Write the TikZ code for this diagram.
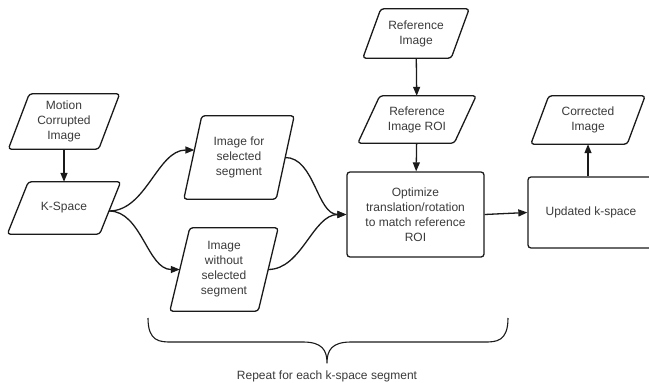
\documentclass[tikz,border=0pt]{standalone}
\usepackage{fontspec}
\setmainfont{Liberation Sans}
\usetikzlibrary{arrows.meta,calc}
\definecolor{txt}{HTML}{3A3A3A}
\definecolor{ln}{HTML}{1A1A1A}
\begin{document}
\begin{tikzpicture}[x=1pt,y=-1pt,
  lbl/.style={align=center,text=txt,font=\fontsize{12}{15}\selectfont,inner sep=0pt},
  outl/.style={draw=ln,line width=1.3pt,rounded corners=3pt,line join=round},
  conn/.style={draw=ln,line width=1.3pt,-{Triangle[length=9pt,width=7pt]}},
  curv/.style={conn,out=0,in=180,looseness=0.9}]
\useasboundingbox (0,0) rectangle (649,383);
% parallelogram helper: node name, skew
\newcommand{\paragr}[2]{%
  \draw[outl] ([xshift=-#2/2]#1.south west) -- ([xshift=#2/2]#1.north west) --
    ([xshift=#2/2]#1.north east) -- ([xshift=-#2/2]#1.south east) -- cycle;}
% nodes
\node[lbl,minimum width=90,minimum height=55] (mci) at (64,121.5) {Motion\\Corrupted\\Image};
\node[lbl,minimum width=92,minimum height=52] (ks) at (64,208) {K-Space};
\node[lbl,minimum width=92,minimum height=83] (isel) at (239,157.5) {Image for\\selected\\segment};
\node[lbl,minimum width=88,minimum height=83] (iwo) at (224,269.5) {Image\\without\\selected\\segment};
\node[lbl,minimum width=88,minimum height=49] (ref) at (416,33.5) {Reference\\Image};
\node[lbl,minimum width=96,minimum height=47] (roi) at (417,119.5) {Reference\\Image ROI};
\node[lbl,minimum width=96,minimum height=48] (cor) at (588,120) {Corrected\\Image};
\node[lbl,minimum width=137,minimum height=85,outl] (opt) at (415.5,214.5) {Optimize\\translation/rotation\\to match reference\\ROI};
\node[lbl,minimum width=126,minimum height=71,outl] (upd) at (591,212.5) {Updated k-space};
\paragr{mci}{21}
\paragr{ks}{21}
\paragr{isel}{18}
\paragr{iwo}{20}
\paragr{ref}{18}
\paragr{roi}{22}
\paragr{cor}{18}
% connectors
\draw[conn] (mci) -- (ks);
\draw[conn] (ref) -- (roi);
\draw[conn] (roi) -- (opt);
\draw[conn] (opt.east) -- (upd.west);
\draw[conn] (upd.north -| cor.south) -- (cor.south);
\coordinate (iselin) at ($(isel.west)+(1.6,-7.5)$);
\coordinate (ksout) at ($(ks.east)+(-1,3)$);
\draw[curv] (ksout) to (iselin);
\draw[curv] (ksout) to (iwo.west);
\draw[curv] (isel.east) to (opt.west);
\draw[curv] (iwo.east) to (opt.west);
% brace
\draw[draw=ln,line width=1.1pt,line join=round]
  (148,318) .. controls (148,342) and (160,342) .. (172,342) -- (303,342)
  .. controls (322,342) and (327,350) .. (327,363)
  .. controls (327,350) and (332,342) .. (351,342) -- (484,342)
  .. controls (496,342) and (508,342) .. (508,318);
\node[lbl] (rep) at (327,376) {Repeat for each k-space segment};
\end{tikzpicture}
\end{document}
